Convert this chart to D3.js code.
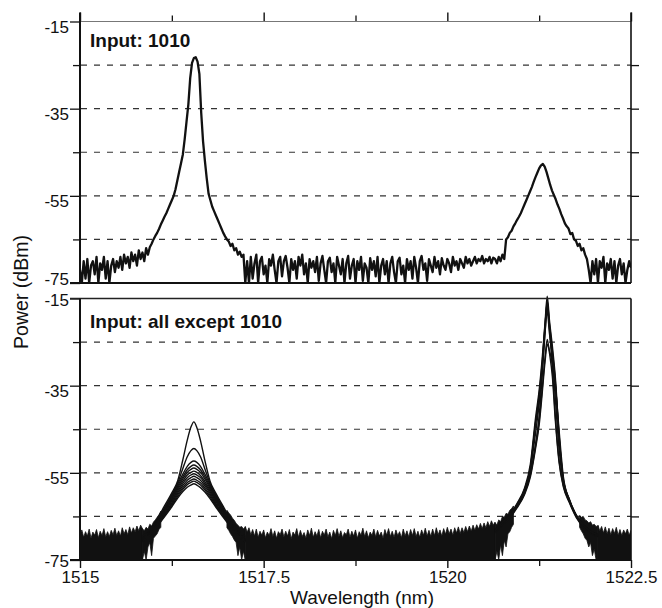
<!DOCTYPE html>
<html>
<head>
<meta charset="utf-8">
<script src="https://cdn.jsdelivr.net/npm/d3@7"></script>
<style>
body { margin: 0; background: #fff; }
text { font-family: "Liberation Sans", Arial, Helvetica, sans-serif; fill: #111; }
</style>
</head>
<body>
<div id="chart"></div>
<script>
// ---- data ----
// OSA sampling grid (nm)
const wlStart = 1515;
const wlStep = 0.025;

// top panel: input 1010, one trace (dBm), one value per grid point
const pow1010 = [
  -72, -75, -70, -74, -69.5, -75, -71, -70, -73, -69, -75, -70.5, -72, -69, -74, -70, -75, -71, -69.5, -72.5,
  -70, -71.5, -69, -72, -68.5, -70.5, -69, -71.5, -68, -70, -68.5, -71, -67.5, -69.5, -68, -70, -67, -68.5,
  -66.8, -66, -65, -64.2, -63.5, -62.6, -61.6, -60.7, -59.8, -59, -58, -57, -56, -55, -53.5, -51.5, -49.5, -47.5,
  -45.5, -42, -38, -34, -28, -24.5, -23.4, -23.2, -24.2, -27, -36, -42.5, -47, -51, -54.5, -56, -57.5, -58.5,
  -59.5, -60.5, -61.5, -62.5, -63.5, -64.3, -65, -65.5, -66.5, -66, -67.5, -67, -68.5, -67.8, -69, -68.5, -75,
  -70, -75, -69, -74, -70.5, -68.5, -75, -70, -69, -73, -71, -75, -69.5, -71, -68.5, -72, -75, -70, -69, -73.5,
  -70, -68.8, -71.5, -75, -69.5, -72, -70, -74, -69, -71, -68.5, -73, -70.5, -75, -69.5, -71.5, -70, -72.5, -69, -74.5,
  -70.5, -68.8, -72, -75, -70, -69.2, -72.5, -70.5, -75, -69, -71, -73, -69.5, -75, -70.5, -68.8, -74, -71, -69.5, -75,
  -70, -72, -69, -74.5, -70.5, -71.5, -75, -69.3, -72, -70, -73.5, -69, -75, -71, -69.5, -73, -70, -75, -70.5, -69,
  -72.5, -75, -70, -69.2, -73, -71, -75, -69.5, -72, -70, -74, -69, -71.5, -75, -70, -68.8, -72, -70.5, -74.5, -69.5,
  -71, -72.5, -69, -71.5, -70, -73, -69.3, -71, -72, -69.5, -70.5, -72.5, -69, -71, -70, -72, -69.5, -70.5, -71.5, -69,
  -70.5, -69.5, -71, -70, -69, -70.5, -69.5, -70, -68.8, -70.5, -69.5, -70, -69, -70.5, -69.2,
  -69.5, -70.5, -69, -70, -68.5, -69.5, -65, -64.5, -63.5, -63, -62, -61.3, -60.5, -59.8, -59, -58, -57, -56, -55, -54,
  -53, -51.8, -50.7, -49.7, -48.7, -48, -47.7, -48.3, -49.5, -51, -52.5, -53.8, -54.8, -55.8, -57, -58, -59.2, -60.2,
  -61.3, -62, -62.5, -63.8, -63.5, -65, -65.3, -66.5, -66, -67.5, -67, -68.5, -69.5, -72, -75,
  -70, -73, -69.5, -75, -70, -71.5, -69, -75, -70.5, -72, -69.5, -74, -70, -75, -71, -69.5, -73, -70.5, -75, -72,
  -70, -71.5
];

// bottom panel: overlapped noise floor of all traces, upper edge (dBm), three stretches
const floorLeftStart = 1515;
const floorLeft = [
  -69.2, -68.1, -69.8, -68.5, -69.5, -67.9, -70, -68.6, -69.3, -68, -69.9, -68.4, -69.4, -67.8, -69.7, -68.5,
  -69.6, -68.2, -69.2, -67.7, -69.4, -68.3, -69.5, -67.6, -69, -68, -69.2, -67.4, -68.8, -67.6, -68.5, -67.2,
  -68.3, -67, -67.8
];
const floorMidStart = 1517.25;
const floorMid = [
  -67.3, -68.6, -67.6, -69.2, -68, -69.5, -67.9, -69.8, -68.4, -69.3,
  -68.1, -69.9, -68.6, -69.4, -67.8, -69.6, -68.3, -70, -68.5, -69.2,
  -67.9, -69.7, -68.4, -69.5, -68, -70.1, -68.6, -69.3, -67.8, -69.8,
  -68.2, -69.6, -68.7, -70, -68.1, -69.4, -67.7, -69.8, -68.5, -69.5,
  -68, -69.9, -68.4, -69.3, -67.9, -69.7, -68.6, -70.1, -68.2, -69.4,
  -67.8, -69.6, -68.3, -69.9, -68.7, -69.2, -67.9, -69.8, -68.4, -69.5,
  -68.1, -70, -68.5, -69.3, -67.7, -69.6, -68.3, -69.9, -68.6, -69.4,
  -67.9, -69.7, -68.2, -69.5, -68.6, -70, -68, -69.3, -67.8, -69.6,
  -68.4, -69.8, -68.1, -69.4, -68.5, -69.9, -67.9, -69.5, -68.3, -69.7,
  -68, -69.4, -67.8, -69.6, -68.4, -69.8, -68.1, -69.3, -67.7, -69.5,
  -68.2, -69.6, -67.9, -69.4, -67.6, -69.2, -68.1, -69.5, -67.8, -69.1,
  -67.5, -69, -67.9, -69.3, -67.6, -68.8, -67.4, -68.9, -67.6, -68.7,
  -67.3, -68.5, -67.2, -68.4, -67, -68.2, -66.9, -67.9, -66.6, -67.8,
  -66.5, -67.6, -66.2, -67.3, -66, -67, -66.3
];
const floorRightStart = 1522.05;
const floorRight = [
  -67, -68.3, -67.3, -68.8, -67.4, -69, -67.7, -69.2, -67.8, -68.9, -67.5, -69.3, -68, -69.4, -68.1,
  -69, -67.9, -69.3, -68.2
];

// bottom panel: fuzzy feet of the two peaks (upper and lower edge of the overlapped traces)
const edgeStarts = [1515.85, 1517.0, 1520.65, 1521.8];
const edgeTops = [
  [-67.8, -68.3, -67.5, -67.9, -66.8, -67.2, -66.3, -65.8, -65.2, -64.6, -63.8],
  [-63.6, -64.2, -64.7, -65.4, -65.9, -66.6, -67, -67.5, -67.3, -67.9, -67.4],
  [-66.5, -66.9, -65.8, -66.2, -65, -65.2, -64.3, -64.5, -63.6, -63.2, -62.6],
  [-64.8, -65.2, -65, -65.8, -66, -66.5, -66.2, -67, -66.8, -67.3, -67.2]
];
const edgeLows = [
  [-75, -73, -75, -72, -71, -74, -70, -69.5, -69, -68, -67.5],
  [-67.6, -68.2, -69, -69.6, -70.4, -71, -74, -72, -75, -73, -75],
  [-75, -73, -75, -71.5, -74, -70.5, -72, -69, -68.5, -67.5, -66.8],
  [-67.5, -68.3, -69, -70, -70.5, -72, -71, -74, -72.5, -75, -75]
];

// bottom panel: peak near 1516.55 nm, one row per input word
const wlLeftPeak = [1515.85, 1515.95, 1516.05, 1516.15, 1516.25, 1516.33, 1516.40, 1516.46, 1516.51, 1516.55,
  1516.59, 1516.64, 1516.70, 1516.77, 1516.85, 1516.95, 1517.05, 1517.15, 1517.25];
const leftPeakTraces = [
  [-69.5, -68.2, -65.6, -62.6, -59.6, -56.8, -52.0, -47.5, -44.5, -43.3, -44.6, -47.6, -52.2, -56.9, -59.7, -62.7, -65.7, -68.3, -69.6],
  [-69.8, -68.4, -65.9, -63.0, -60.0, -57.3, -54.0, -51.3, -49.9, -49.4, -49.9, -51.3, -54.1, -57.4, -60.1, -63.1, -66.0, -68.5, -69.9],
  [-70.0, -68.5, -66.1, -63.3, -60.3, -57.6, -55.3, -53.5, -52.6, -52.3, -52.6, -53.5, -55.3, -57.7, -60.4, -63.4, -66.2, -68.6, -70.1],
  [-70.1, -68.6, -66.2, -63.5, -60.6, -58.0, -55.9, -54.3, -53.5, -53.2, -53.5, -54.3, -55.9, -58.1, -60.7, -63.6, -66.3, -68.7, -70.2],
  [-70.2, -68.7, -66.3, -63.7, -60.9, -58.4, -56.4, -54.9, -54.2, -53.9, -54.2, -54.9, -56.4, -58.5, -61.0, -63.8, -66.4, -68.8, -70.3],
  [-70.3, -68.8, -66.5, -63.9, -61.2, -58.8, -56.9, -55.5, -54.9, -54.6, -54.9, -55.6, -57.0, -58.9, -61.3, -64.0, -66.6, -68.9, -70.4],
  [-70.4, -68.9, -66.6, -64.1, -61.5, -59.2, -57.4, -56.1, -55.5, -55.2, -55.5, -56.1, -57.5, -59.3, -61.6, -64.2, -66.7, -69.0, -70.5],
  [-70.5, -69.0, -66.8, -64.4, -61.9, -59.6, -57.9, -56.7, -56.1, -55.8, -56.1, -56.7, -58.0, -59.7, -62.0, -64.5, -66.9, -69.1, -70.6],
  [-70.6, -69.1, -67.0, -64.6, -62.2, -60.0, -58.4, -57.2, -56.7, -56.4, -56.7, -57.3, -58.5, -60.1, -62.3, -64.7, -67.1, -69.2, -70.7],
  [-70.7, -69.2, -67.1, -64.8, -62.5, -60.4, -58.8, -57.7, -57.2, -56.9, -57.2, -57.8, -58.9, -60.5, -62.6, -64.9, -67.2, -69.3, -70.8],
  [-70.8, -69.3, -67.3, -65.1, -62.8, -60.8, -59.3, -58.3, -57.8, -57.5, -57.8, -58.4, -59.4, -60.9, -62.9, -65.2, -67.4, -69.4, -70.9]
];

// bottom panel: peak near 1521.36 nm
const wlRightPeak = [1520.65, 1520.75, 1520.85, 1520.95, 1521.05, 1521.13, 1521.20, 1521.25, 1521.29, 1521.33, 1521.36,
  1521.39, 1521.43, 1521.47, 1521.52, 1521.58, 1521.66, 1521.76, 1521.86, 1521.96, 1522.05];
const rightPeakTraces = [
  [-68.0, -66.0, -64.5, -62.0, -58.5, -53.0, -42.5, -36.0, -29.0, -20.5, -14.5, -20.0, -26.0, -33.0, -46.0, -56.5, -61.0, -64.8, -67.0, -68.5, -69.0],
  [-68.5, -66.3, -64.8, -62.3, -59.0, -53.8, -43.5, -37.0, -30.0, -21.5, -15.5, -20.8, -27.0, -34.0, -47.0, -57.0, -61.3, -65.0, -67.3, -68.7, -69.3],
  [-68.3, -66.5, -65.0, -62.6, -59.5, -55.0, -48.5, -42.0, -33.0, -23.0, -17.0, -22.0, -31.0, -42.0, -52.0, -58.0, -61.6, -65.2, -67.5, -68.9, -69.5],
  [-68.6, -66.7, -65.2, -62.8, -59.8, -55.5, -49.0, -43.0, -36.0, -28.5, -24.4, -27.5, -33.0, -43.0, -52.5, -58.3, -61.8, -65.4, -67.6, -69.0, -69.6],
  [-68.8, -66.9, -65.4, -63.0, -60.0, -56.0, -49.5, -44.0, -37.0, -29.5, -25.5, -27.0, -30.0, -35.0, -45.0, -56.0, -61.2, -65.0, -67.4, -68.8, -69.4],
  [-68.2, -66.2, -64.7, -62.2, -58.8, -54.2, -46.0, -39.0, -31.0, -21.0, -16.0, -21.5, -29.0, -38.0, -49.5, -57.2, -61.4, -65.1, -67.2, -68.6, -69.2],
  [-68.4, -66.4, -64.9, -62.4, -59.2, -54.0, -44.0, -38.5, -31.5, -22.5, -18.0, -23.0, -28.0, -34.5, -46.5, -56.8, -61.1, -64.9, -67.1, -68.6, -69.1]
];

// axes
const xMajor = [1515, 1517.5, 1520, 1522.5];
const xMinor = [1516.25, 1518.75, 1521.25];
const yLabeled = [-15, -35, -55, -75];
const yGrid = [-25, -35, -45, -55, -65];
const yAllTicks = [-15, -25, -35, -45, -55, -65, -75];
const panelTitles = ["Input: 1010", "Input: all except 1010"];

// ---- drawing ----
const width = 662;
const height = 608;

let svg = d3.select("#chart").append("svg")
    .attr("width", width)
    .attr("height", height);

let x = d3.scaleLinear().domain([1515, 1522.5]).range([80, 631]);
let yA = d3.scaleLinear().domain([-75, -15]).range([283, 21.5]);
let yB = d3.scaleLinear().domain([-75, -15]).range([560, 298.5]);

let defs = svg.append("defs");
defs.append("clipPath").attr("id", "clipA").append("rect")
    .attr("x", 80).attr("y", 20).attr("width", 551).attr("height", 264);
defs.append("clipPath").attr("id", "clipB").append("rect")
    .attr("x", 80).attr("y", 295).attr("width", 551).attr("height", 266);

// dashed grid lines
[yA, yB].forEach(y => {
    svg.append("g").selectAll("line")
        .data(yGrid)
        .enter().append("line")
        .attr("x1", 81).attr("x2", 631)
        .attr("y1", d => y(d)).attr("y2", d => y(d))
        .attr("stroke", "#333")
        .attr("stroke-width", 1.2)
        .attr("stroke-dasharray", "6,7");
});

// top trace
let lineA = d3.line()
    .x((d, i) => x(wlStart + i * wlStep))
    .y(d => yA(d));

svg.append("path")
    .datum(pow1010)
    .attr("clip-path", "url(#clipA)")
    .attr("d", lineA)
    .attr("fill", "none")
    .attr("stroke", "#111")
    .attr("stroke-width", 2.3)
    .attr("stroke-linejoin", "round");

// bottom noise floor band
let floorArea = start => d3.area()
    .x((d, i) => x(start + i * wlStep))
    .y0(yB(-75))
    .y1(d => yB(d));

let gB = svg.append("g").attr("clip-path", "url(#clipB)");

[[floorLeftStart, floorLeft], [floorMidStart, floorMid], [floorRightStart, floorRight]].forEach(s => {
    gB.append("path")
        .datum(s[1])
        .attr("d", floorArea(s[0]))
        .attr("fill", "#111")
        .attr("stroke", "#111")
        .attr("stroke-width", 0.8);
});

// fuzzy feet of the peaks
edgeStarts.forEach((start, k) => {
    let area = d3.area()
        .x((d, i) => x(start + i * wlStep))
        .y0((d, i) => yB(edgeLows[k][i]))
        .y1(d => yB(d));
    gB.append("path")
        .datum(edgeTops[k])
        .attr("d", area)
        .attr("fill", "#111")
        .attr("stroke", "#111")
        .attr("stroke-width", 0.8);
});

// bottom peak traces
let peakLine = wl => d3.line()
    .curve(d3.curveMonotoneX)
    .x((d, i) => x(wl[i]))
    .y(d => yB(d));

gB.selectAll(".lt")
    .data(leftPeakTraces)
    .enter().append("path")
    .attr("class", "lt")
    .attr("d", peakLine(wlLeftPeak))
    .attr("fill", "none")
    .attr("stroke", "#111")
    .attr("stroke-width", 1.4);

gB.selectAll(".rt")
    .data(rightPeakTraces)
    .enter().append("path")
    .attr("class", "rt")
    .attr("d", peakLine(wlRightPeak))
    .attr("fill", "none")
    .attr("stroke", "#111")
    .attr("stroke-width", 1.4);

// left axes (ticks outward, labels every 20 dB)
const labelShift = [
    {"-15": 6, "-35": 5, "-55": 5, "-75": -4},
    {"-15": 2, "-35": 5, "-55": 5, "-75": 1}
];
[yA, yB].forEach((y, k) => {
    let g = svg.append("g")
        .attr("transform", "translate(80,0)")
        .call(d3.axisLeft(y)
            .tickValues(yAllTicks)
            .tickSize(10)
            .tickPadding(1)
            .tickFormat(d => yLabeled.includes(d) ? String(d) : ""));
    g.select(".domain").remove();
    g.selectAll(".tick line")
        .attr("stroke", "#111")
        .attr("stroke-width", 1.3)
        .attr("x2", d => yLabeled.includes(d) ? -10 : -7);
    g.selectAll(".tick text")
        .style("font-size", "17px")
        .attr("fill", "#111")
        .attr("dy", d => (5.4 + labelShift[k][String(d)]) + "px");
});

// right axes (ticks outward, no labels)
[yA, yB].forEach(y => {
    let g = svg.append("g")
        .attr("transform", "translate(631,0)")
        .call(d3.axisRight(y).tickValues(yGrid).tickSize(8).tickFormat(""));
    g.select(".domain").remove();
    g.selectAll(".tick line").attr("stroke", "#111").attr("stroke-width", 1.3);
});

// top of upper panel: ticks pointing up
let topMajor = svg.append("g")
    .attr("transform", "translate(0,21.5)")
    .call(d3.axisTop(x).tickValues(xMajor).tickSize(9).tickFormat(""));
topMajor.select(".domain").remove();
topMajor.selectAll(".tick line").attr("stroke", "#111").attr("stroke-width", 1.4);

let topMinor = svg.append("g")
    .attr("transform", "translate(0,21.5)")
    .call(d3.axisTop(x).tickValues(xMinor).tickSize(6).tickFormat(""));
topMinor.select(".domain").remove();
topMinor.selectAll(".tick line").attr("stroke", "#111").attr("stroke-width", 1.3);

// bottom x axis
let botMajor = svg.append("g")
    .attr("transform", "translate(0,560)")
    .call(d3.axisBottom(x).tickValues(xMajor).tickSize(8).tickPadding(3).tickFormat(d => String(d)));
botMajor.select(".domain").remove();
botMajor.selectAll(".tick line").attr("stroke", "#111").attr("stroke-width", 1.4);
botMajor.selectAll(".tick text").style("font-size", "17px").attr("fill", "#111");

let botMinor = svg.append("g")
    .attr("transform", "translate(0,560)")
    .call(d3.axisBottom(x).tickValues(xMinor).tickSize(6).tickFormat(""));
botMinor.select(".domain").remove();
botMinor.selectAll(".tick line").attr("stroke", "#111").attr("stroke-width", 1.3);

// panel frames
let frame = (x1, y1, x2, y2, w, c) => svg.append("line")
    .attr("x1", x1).attr("y1", y1).attr("x2", x2).attr("y2", y2)
    .attr("stroke", c).attr("stroke-width", w);

frame(80, 21.5, 631, 21.5, 1, "#777");
frame(80, 12.5, 80, 283, 2, "#111");
frame(631, 12.5, 631, 283, 1.6, "#111");
frame(70, 283, 631, 283, 2, "#111");

frame(70, 298.5, 631, 298.5, 1.6, "#222");
frame(80, 298.5, 80, 560, 2, "#111");
frame(631, 298.5, 631, 560, 1.6, "#111");
frame(70, 560, 631, 560, 2, "#111");

// panel titles
svg.append("text")
    .attr("x", 90).attr("y", 47)
    .style("font-size", "19px").style("font-weight", "bold")
    .text(panelTitles[0]);
svg.append("text")
    .attr("x", 90).attr("y", 328)
    .style("font-size", "19px").style("font-weight", "bold")
    .text(panelTitles[1]);

// axis titles
svg.append("text")
    .attr("text-anchor", "middle")
    .attr("x", 362).attr("y", 604)
    .style("font-size", "19px")
    .text("Wavelength (nm)");
svg.append("text")
    .attr("text-anchor", "middle")
    .attr("transform", "translate(28,292) rotate(-90)")
    .style("font-size", "19.5px")
    .text("Power (dBm)");
</script>
</body>
</html>
